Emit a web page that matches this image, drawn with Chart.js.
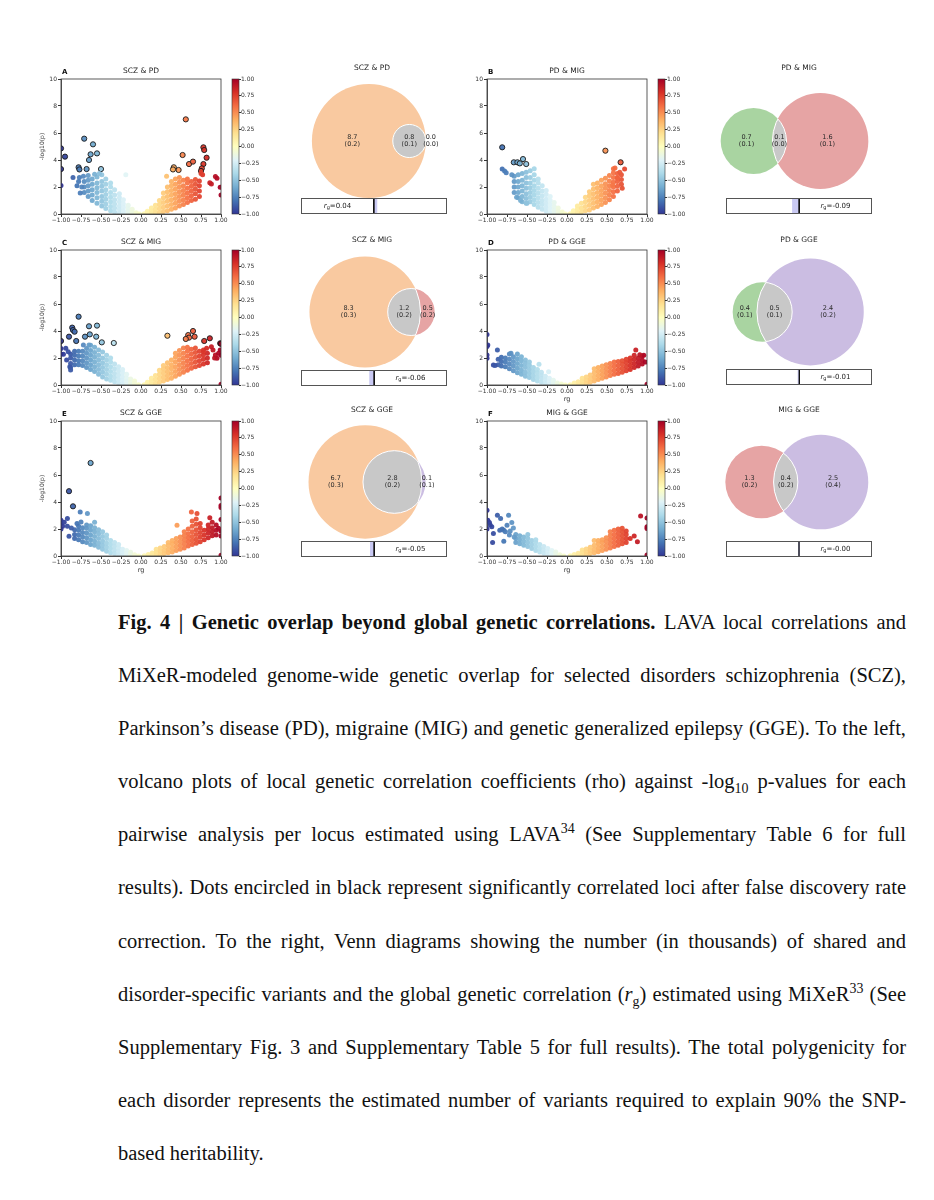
<!DOCTYPE html>
<html>
<head>
<meta charset="utf-8">
<title>Fig. 4</title>
<script src="https://cdn.jsdelivr.net/npm/chart.js@4.4.1/dist/chart.umd.min.js"></script>
<style>
  html, body { margin: 0; padding: 0; background: #fff; }
  body { width: 934px; height: 1200px; position: relative; overflow: hidden; }
  #fig canvas { position: absolute; }
  #caption {
    position: absolute; left: 118px; top: 596px; width: 788px;
    font-family: "Liberation Serif", "Times New Roman", serif;
    font-size: 20.5px; line-height: 53.1px; color: #111;
  }
  #caption div { text-align: justify; text-align-last: justify; }
  #caption div.last { text-align-last: left; }
  #caption sub, #caption sup { font-size: 0.68em; line-height: 0; }
</style>
</head>
<body>
<div id="fig"></div>
<div id="caption">
  <div><b>Fig. 4 | Genetic overlap beyond global genetic correlations.</b> LAVA local correlations and</div>
  <div>MiXeR-modeled genome-wide genetic overlap for selected disorders schizophrenia (SCZ),</div>
  <div>Parkinson’s disease (PD), migraine (MIG) and genetic generalized epilepsy (GGE). To the left,</div>
  <div>volcano plots of local genetic correlation coefficients (rho) against -log<sub>10</sub> p-values for each</div>
  <div>pairwise analysis per locus estimated using LAVA<sup>34</sup> (See Supplementary Table 6 for full</div>
  <div>results). Dots encircled in black represent significantly correlated loci after false discovery rate</div>
  <div>correction. To the right, Venn diagrams showing the number (in thousands) of shared and</div>
  <div>disorder-specific variants and the global genetic correlation (<i>r</i><sub>g</sub>) estimated using MiXeR<sup>33</sup> (See</div>
  <div>Supplementary Fig. 3 and Supplementary Table 5 for full results). The total polygenicity for</div>
  <div>each disorder represents the estimated number of variants required to explain 90% the SNP-</div>
  <div class="last">based heritability.</div>
</div>
<script>
//---------------------------------------------------------
// Data
//---------------------------------------------------------
// loci rows: [rho, -log10(p), -log10(p), ...]
const sczPdLoci = [
  [-0.71,1.6,2.0,2.4],[-0.66,1.3,1.7,2.1,2.5,2.85],[-0.61,1.0,1.4,1.8,2.2,2.6],[-0.55,0.8,1.2,1.6,1.95,2.3,2.75],
  [-0.49,0.6,0.95,1.3,1.7,2.05,2.4,2.9],[-0.44,0.4,0.75,1.1,1.45,1.8,2.2,2.6],[-0.38,0.25,0.55,0.9,1.25,1.6,2.0,2.3],
  [-0.33,0.15,0.45,0.75,1.05,1.4,1.8],[-0.27,0.1,0.35,0.6,0.9,1.2,1.5],[-0.22,0.05,0.25,0.5,0.75,1.05],
  [-0.16,0.03,0.2,0.4,0.65],[-0.11,0.02,0.15,0.35],[-0.06,0.01,0.1],[-0.02,0.0],
  [-1.0,2.12],[-0.19,2.9],[-0.8,2.1],[-0.78,2.4],[-0.76,1.55],[-0.85,2.7],[-0.77,2.7],[-0.74,2.0],[-0.72,2.8],[-0.58,2.95],[-0.52,3.0],
  [0.04,0.02],[0.08,0.05,0.2],[0.13,0.05,0.25,0.45],[0.18,0.1,0.35,0.65],[0.23,0.12,0.4,0.7,1.0],
  [0.28,0.18,0.5,0.85,1.2,1.55],[0.33,0.25,0.6,0.95,1.3,1.65,2.0],[0.38,0.35,0.7,1.05,1.4,1.75,2.1,2.4],
  [0.43,0.45,0.8,1.15,1.5,1.85,2.2,2.6],[0.48,0.6,0.95,1.3,1.65,2.0,2.35,2.7],[0.53,0.7,1.05,1.4,1.75,2.1,2.5],
  [0.58,0.85,1.2,1.55,1.9,2.3,2.6],[0.63,1.0,1.35,1.7,2.05,2.4],[0.68,1.1,1.5,1.85,2.2,2.55],[0.73,1.3,1.7,2.1,2.45],
  [0.32,2.8],[0.86,2.32],[0.93,2.77],[0.95,2.64],[0.99,1.98],[1.0,1.41],[0.88,2.22],[0.77,2.9],[0.75,3.0]
];
const sczPdSig = [
  [-1.0,4.86],[-0.95,4.25],[-1.0,3.33],[-0.71,5.58],[-0.6,5.16],[-0.63,4.42],[-0.55,4.49],[-0.65,4.0],
  [-0.78,3.46],[-0.68,3.33],[-0.5,3.33],[-0.77,3.3],[0.56,7.01],[0.52,4.37],[0.41,3.46],[0.47,3.26],
  [0.6,3.7],[0.65,3.88],[0.78,4.94],[0.79,4.74],[0.82,4.17],[0.78,3.7],[0.76,3.38],[0.75,3.19],[0.4,3.3]
];

const pdMigLoci = [
  [-0.66,1.6,2.0,2.4,2.8],[-0.61,1.2,1.6,2.0,2.4,2.9],[-0.56,0.9,1.3,1.7,2.1,2.5,3.0],[-0.51,0.8,1.15,1.5,1.9,2.3,2.7,3.1],
  [-0.46,0.9,1.25,1.6,1.95,2.3,2.7,3.2],[-0.41,0.7,1.05,1.4,1.75,2.1,2.5,2.9,3.35],[-0.36,0.5,0.85,1.2,1.55,1.9,2.3,2.6],
  [-0.31,0.35,0.7,1.0,1.35,1.7,2.1],[-0.26,0.2,0.5,0.8,1.1,1.45,1.75],[-0.21,0.1,0.4,0.7,1.0,1.3],
  [-0.16,0.05,0.3,0.55,0.85],[-0.11,0.03,0.2,0.45],[-0.06,0.01,0.15],[-0.02,0.0],
  [-0.81,3.33],[-0.78,3.19],[-0.76,3.06],[-0.69,2.9],[-0.63,1.25],[-0.58,1.0],[-0.5,0.79],
  [0.04,0.02],[0.08,0.05,0.25],[0.13,0.1,0.35,0.6],[0.18,0.15,0.45,0.8],[0.23,0.25,0.55,0.9,1.25],
  [0.28,0.3,0.65,1.0,1.35,1.65],[0.33,0.45,0.8,1.15,1.5,1.85,2.2],[0.38,0.55,0.9,1.25,1.6,1.95,2.3],
  [0.43,0.7,1.05,1.4,1.75,2.1,2.5],[0.48,0.85,1.2,1.55,1.9,2.25,2.65],[0.53,1.05,1.4,1.75,2.1,2.45,2.85],
  [0.58,1.3,1.65,2.0,2.35,2.7,3.05,3.35],[0.63,1.7,2.05,2.4,2.7,3.0],[0.68,2.2,2.55,2.9],
  [0.72,3.33],[0.69,1.9],[0.57,2.15],[0.63,2.64],[0.66,3.1],[0.6,3.4]
];
const pdMigSig = [[-0.81,4.94],[-0.665,3.83],[-0.62,3.83],[-0.59,3.75],[-0.55,4.07],[-0.51,3.7],[0.48,4.69],[0.67,3.83]];

const sczMigLoci = [
  [-0.88,1.3,1.6,2.0,2.3],[-0.83,1.5,1.85,2.2,2.5],[-0.78,1.5,1.8,2.15,2.5],[-0.73,1.45,1.8,2.15,2.5],
  [-0.68,1.3,1.65,2.0,2.35,2.7],[-0.63,1.15,1.5,1.85,2.2,2.55,2.95],[-0.58,1.0,1.35,1.7,2.05,2.4,2.8],
  [-0.53,0.8,1.15,1.5,1.85,2.2,2.6],[-0.48,0.6,0.95,1.3,1.65,2.0,2.45],[-0.43,0.45,0.8,1.15,1.5,1.85,2.2],
  [-0.38,0.35,0.65,1.0,1.35,1.7,2.0],[-0.33,0.25,0.55,0.85,1.2,1.55],[-0.28,0.15,0.45,0.75,1.05,1.35],
  [-0.23,0.1,0.35,0.6,0.9,1.15],[-0.18,0.05,0.3,0.5,0.8],[-0.13,0.03,0.2,0.45],[-0.08,0.02,0.15,0.3],[-0.03,0.01],
  [-1.0,2.7],[-0.97,2.27],[-0.91,2.47],[-0.93,1.85],[-0.89,1.36],[-0.88,1.11],[-0.94,2.72],[-0.72,2.96],[-0.65,2.96],[-1.0,2.3],
  [0.04,0.02],[0.08,0.05,0.2],[0.13,0.08,0.3,0.5],[0.18,0.12,0.4,0.7],[0.23,0.2,0.5,0.8,1.1],
  [0.28,0.3,0.6,0.9,1.2,1.45],[0.33,0.4,0.7,1.0,1.3,1.65],[0.38,0.5,0.85,1.2,1.5,1.85],
  [0.43,0.65,1.0,1.35,1.7,2.05,2.35],[0.48,0.8,1.15,1.5,1.85,2.2,2.55],[0.53,0.95,1.3,1.65,2.0,2.35,2.75],
  [0.58,1.1,1.45,1.8,2.15,2.5,2.8],[0.63,1.25,1.6,1.95,2.3,2.65],[0.68,1.35,1.7,2.05,2.4,2.75],
  [0.73,1.45,1.8,2.15,2.5],[0.78,1.55,1.9,2.25,2.6],[0.83,1.65,2.0,2.35],
  [0.88,2.84],[0.9,2.59],[0.93,2.22],[0.97,2.35],[0.99,2.59],[0.95,1.98],[1.0,0.05],[0.82,2.72],[0.78,2.47],[0.92,2.0],[1.0,2.2]
];
const sczMigSig = [
  [-0.78,5.06],[-0.86,4.25],[-0.85,4.07],[-0.83,3.95],[-0.9,3.58],[-0.81,3.26],[-1.0,3.26],[-0.65,4.35],
  [-0.55,4.4],[-0.64,3.75],[-0.7,3.58],[-0.56,3.58],[-0.49,3.16],[-0.34,3.11],[0.33,3.65],[0.59,3.7],
  [0.65,4.0],[0.6,3.51],[0.56,3.41],[0.67,3.58],[0.79,3.26],[0.86,3.46],[0.99,3.09],[1.0,3.05]
];

const pdGgeLoci = [
  [-0.86,1.5,1.9],[-0.82,1.4,1.75,2.05],[-0.77,1.35,1.7,2.0],[-0.72,1.2,1.55,1.9,2.3],[-0.67,1.05,1.4,1.75,2.1],
  [-0.62,0.9,1.25,1.6,1.95,2.3],[-0.57,0.8,1.1,1.45,1.8,2.1],[-0.52,0.65,0.95,1.3,1.6,1.85],[-0.47,0.55,0.85,1.15,1.45,1.7],
  [-0.42,0.4,0.7,1.0,1.3],[-0.37,0.3,0.6,0.9,1.15],[-0.32,0.2,0.5,0.75,0.95],[-0.27,0.12,0.4,0.65],[-0.22,0.08,0.3,0.5],
  [-0.17,0.05,0.2,0.35],[-0.12,0.03,0.15],[-0.07,0.01,0.08],[-0.02,0.0],
  [-1.0,3.75],[-0.99,2.96],[-1.0,2.85],[-1.0,2.22],[-1.0,1.98],[-0.87,2.59],[-0.92,1.48],[-0.9,1.45],[-0.35,1.53],[-0.23,0.99],[-0.7,2.35],
  [0.04,0.01],[0.09,0.03,0.15],[0.14,0.05,0.25],[0.19,0.08,0.3,0.5],[0.24,0.12,0.35,0.6],[0.29,0.2,0.45,0.75],
  [0.34,0.3,0.6,0.9,1.2],[0.39,0.4,0.7,1.0,1.3],[0.44,0.5,0.8,1.1,1.4],[0.49,0.6,0.9,1.2,1.5],[0.54,0.7,1.0,1.3,1.6],
  [0.59,0.8,1.1,1.4,1.7],[0.64,0.85,1.15,1.45,1.75],[0.69,0.95,1.25,1.55,1.8],[0.74,1.05,1.35,1.65,1.9],
  [0.79,1.15,1.45,1.75,2.0],[0.84,1.3,1.6,1.9,2.2],[0.89,1.4,1.7,2.0],[0.94,1.55,1.85,2.15],
  [0.86,2.59],[0.98,1.7],[1.0,0.05],[0.96,2.2],[0.91,2.25]
];
const pdGgeSig = [];

const sczGgeLoci = [
  [-0.83,1.3,1.6,1.95],[-0.78,1.2,1.55,1.9,2.2],[-0.73,1.05,1.4,1.75,2.1],[-0.68,1.0,1.35,1.7,2.05,2.3],
  [-0.63,0.85,1.2,1.55,1.9,2.25],[-0.58,0.8,1.1,1.45,1.8,2.1,2.5],[-0.53,0.65,0.95,1.3,1.65,1.95],
  [-0.48,0.5,0.8,1.1,1.45,1.8],[-0.43,0.35,0.65,0.95,1.3,1.55],[-0.38,0.25,0.55,0.85,1.15],[-0.33,0.18,0.45,0.75,1.0],
  [-0.28,0.1,0.35,0.6,0.85],[-0.23,0.07,0.3,0.5],[-0.18,0.04,0.2,0.4],[-0.13,0.02,0.15,0.28],[-0.08,0.01,0.1],[-0.03,0.0],
  [-0.76,3.26],[-0.67,3.14],[-0.92,2.77],[-1.0,2.65],[-1.0,2.4],[-0.98,2.2],[-1.0,2.0],[-0.96,2.5],[-0.9,1.47],
  [-0.87,2.08],[-0.8,2.4],[-0.75,2.52],[-0.92,2.2],
  [0.04,0.01],[0.09,0.03,0.12],[0.14,0.05,0.22],[0.19,0.08,0.3,0.5],[0.24,0.12,0.35,0.6],[0.29,0.18,0.42,0.7],
  [0.34,0.25,0.5,0.8,1.0],[0.39,0.3,0.6,0.9,1.15],[0.44,0.4,0.7,1.0,1.3],[0.49,0.5,0.8,1.1,1.4],
  [0.54,0.6,0.9,1.2,1.5,1.8],[0.59,0.75,1.05,1.35,1.65,2.0],[0.64,0.85,1.15,1.45,1.8,2.2,2.6],
  [0.69,0.95,1.25,1.6,1.95,2.35,2.75],[0.74,1.05,1.4,1.75,2.1,2.4],[0.79,1.2,1.55,1.9],[0.84,1.35,1.7,2.0,2.3],
  [0.89,1.5,1.8,2.1,2.5],[0.94,1.55,1.9,2.3],
  [0.45,2.28],[0.63,3.26],[0.7,3.14],[0.86,2.84],[1.0,4.29],[1.0,3.75],[1.0,3.6],[1.0,2.7],[1.0,1.84],[1.0,1.49],[0.97,2.05],[1.0,0.05]
];
const sczGgeSig = [[-0.63,6.89],[-0.9,4.8],[-0.85,3.68]];

const migGgeLoci = [
  [-0.64,1.0,1.3,1.6],[-0.59,0.9,1.2,1.5],[-0.54,0.8,1.1,1.4],[-0.49,0.7,1.0,1.3,1.6],[-0.44,0.55,0.85,1.15],
  [-0.39,0.4,0.7,1.0,1.2],[-0.34,0.3,0.55,0.85],[-0.29,0.2,0.45,0.7],[-0.24,0.12,0.35,0.55],[-0.19,0.07,0.25,0.4],
  [-0.14,0.04,0.18,0.3],[-0.09,0.02,0.1],[-0.04,0.0],
  [-1.0,3.38],[-0.99,2.65],[-0.97,2.48],[-0.94,2.16],[-0.92,1.67],[-0.93,1.0],[-0.87,3.01],[-0.83,2.77],[-0.84,1.91],
  [-0.79,1.91],[-0.77,1.79],[-0.73,3.01],[-0.75,2.28],[-0.79,1.1],[-0.69,2.48],[-0.71,1.85],[-0.67,2.08],[-0.81,2.0],
  [-0.96,2.3],[-1.0,2.0],[-0.72,1.55],[-0.66,1.4],
  [0.04,0.01],[0.09,0.03,0.12],[0.14,0.05,0.2],[0.19,0.08,0.28,0.45],[0.24,0.12,0.32,0.52],[0.29,0.18,0.4,0.65],
  [0.34,0.25,0.5,0.8,1.15],[0.39,0.32,0.6,0.9,1.15],[0.44,0.4,0.7,1.0,1.2],[0.49,0.5,0.8,1.1,1.35],
  [0.54,0.6,0.9,1.2,1.5,1.8],[0.59,0.7,1.0,1.3,1.6,1.9],[0.64,0.8,1.1,1.4,1.7,2.0],[0.69,0.9,1.2,1.5,1.8,2.05],
  [0.74,1.0,1.3,1.6,1.85],
  [0.84,1.49],[0.88,1.05],[0.92,2.97],[1.0,2.82],[1.0,2.16],[1.0,2.03],[1.0,0.07],[0.79,1.3]
];
const migGgeSig = [];

const panelLetters = ["A", "B", "C", "D", "E", "F"];
const volcanoTitles = ["SCZ & PD", "PD & MIG", "SCZ & MIG", "PD & GGE", "SCZ & GGE", "MIG & GGE"];
const volcanoLoci = [sczPdLoci, pdMigLoci, sczMigLoci, pdGgeLoci, sczGgeLoci, migGgeLoci];
const volcanoSig = [sczPdSig, pdMigSig, sczMigSig, pdGgeSig, sczGgeSig, migGgeSig];

const rhoTicks = [-1, -0.75, -0.5, -0.25, 0, 0.25, 0.5, 0.75, 1];
const logpTicks = [0, 2, 4, 6, 8, 10];
const colorbarTicks = [-1, -0.75, -0.5, -0.25, 0, 0.25, 0.5, 0.75, 1];

// Venn (MiXeR): [first only, shared, second only] in thousands, with SE
const vennTitles = ["SCZ & PD", "PD & MIG", "SCZ & MIG", "PD & GGE", "SCZ & GGE", "MIG & GGE"];
const vennTraits = [["SCZ", "PD"], ["PD", "MIG"], ["SCZ", "MIG"], ["PD", "GGE"], ["SCZ", "GGE"], ["MIG", "GGE"]];
const vennCounts = [[8.7, 0.8, 0.0], [0.7, 0.1, 1.6], [8.3, 1.2, 0.5], [0.4, 0.5, 2.4], [6.7, 2.8, 0.1], [1.3, 0.4, 2.5]];
const vennSE = [[0.2, 0.1, 0.0], [0.1, 0.0, 0.1], [0.3, 0.2, 0.2], [0.1, 0.1, 0.2], [0.3, 0.2, 0.1], [0.2, 0.2, 0.4]];
const vennRg = [0.04, -0.09, -0.06, -0.01, -0.05, -0.00];
const rgTicks = [-1, 0, 1];

//---------------------------------------------------------
// Styling / layout
//---------------------------------------------------------
const FONT = "'DejaVu Sans', sans-serif";
const INK = "#333";
const TRAIT_COLORS = { SCZ: "#f9c9a0", PD: "#a9d4a1", MIG: "#e6a4a4", GGE: "#cbbde2" };
const SHARED_COLOR = "#c8c8c8";
const RDYLBU_R = ["#313695", "#4575b4", "#74add1", "#abd9e9", "#e0f3f8", "#ffffbf", "#fee090", "#fdae61", "#f46d43", "#d73027", "#a50026"];

const PLOT_W = 160, PLOT_H = 135;
const PLOT_POS = [[61, 79], [487, 79], [61, 250], [487, 250], [61, 421], [487, 421]];
const VENN_POS = [[372, 68, 141], [799, 68, 141], [372, 240, 312], [799, 240, 312], [372, 410, 482], [799, 410, 482]];
const RG_POS = [[301, 198], [726, 198], [301, 370], [726, 369], [301, 541], [726, 541]];
const VENN_PX = 101; // px per unit (union area normalised to 1)

const fmt2 = (v) => (v < 0 ? "\u2212" : "") + Math.abs(v).toFixed(2);
const toPoints = (rows) => rows.flatMap(([x, ...ys]) => ys.map((y) => ({ x, y })));

const hexRgb = (h) => [1, 3, 5].map((i) => parseInt(h.slice(i, i + 2), 16));
const cmap = (v) => {
	const n = RDYLBU_R.length - 1;
	const t = Math.min(1, Math.max(0, (v + 1) / 2)) * n;
	const i = Math.min(Math.floor(t), n - 1);
	const f = t - i;
	const a = hexRgb(RDYLBU_R[i]), b = hexRgb(RDYLBU_R[i + 1]);
	const c = a.map((x, k) => Math.round(x + (b[k] - x) * f));
	return `rgba(${c[0]},${c[1]},${c[2]},0.95)`;
};
const pointColor = (c) => (c.raw ? cmap(c.raw.x) : "#ccc");

const addCanvas = (left, top, w, h) => {
	const c = document.createElement("canvas");
	c.width = w;
	c.height = h;
	c.style.left = left + "px";
	c.style.top = top + "px";
	c.style.width = w + "px";
	c.style.height = h + "px";
	document.getElementById("fig").appendChild(c);
	return c;
};

// frame around the plot area (+ optional panel letter)
const framePlugin = {
	id: "frame",
	afterDraw(chart, args, opts) {
		const { ctx, chartArea: a } = chart;
		ctx.save();
		ctx.strokeStyle = opts.color || INK;
		ctx.lineWidth = opts.width || 0.8;
		ctx.strokeRect(a.left, a.top, a.width, a.height);
		if (opts.letter) {
			ctx.font = "bold 7px " + FONT;
			ctx.fillStyle = "#111";
			ctx.textBaseline = "middle";
			ctx.fillText(opts.letter, a.left + 1, a.top - 6.5);
		}
		ctx.restore();
	},
};

//---------------------------------------------------------
// Volcano plots + colorbars
//---------------------------------------------------------
volcanoTitles.forEach((title, i) => {
	const [pl, pt] = PLOT_POS[i];
	const showY = i % 2 === 0;
	const showX = i >= 3;
	const xH = showX ? 22 : 14;
	const cv = addCanvas(pl - 31, pt - 14, 31 + PLOT_W + 10, 14 + PLOT_H + xH);

	new Chart(cv, {
		type: "scatter",
		data: {
			datasets: [
				{
					data: toPoints(volcanoLoci[i]),
					pointRadius: 2.5,
					pointBorderWidth: 0,
					pointBackgroundColor: pointColor,
				},
				{
					data: toPoints(volcanoSig[i]),
					pointRadius: 2.6,
					pointBorderWidth: 0.9,
					pointBorderColor: "#1a1a1a",
					pointBackgroundColor: pointColor,
				},
			],
		},
		options: {
			responsive: false,
			animation: false,
			events: [],
			layout: { padding: { left: 0, right: 10, top: 0, bottom: 0 } },
			scales: {
				x: {
					type: "linear",
					min: -1,
					max: 1,
					afterBuildTicks: (s) => { s.ticks = rhoTicks.map((v) => ({ value: v })); },
					afterFit: (s) => { s.height = xH; },
					ticks: { font: { family: FONT, size: 6 }, color: INK, autoSkip: false, maxRotation: 0, minRotation: 0, padding: 0, callback: (v) => fmt2(v) },
					grid: { drawOnChartArea: false, tickLength: 3, color: INK },
					border: { color: INK, width: 0.8 },
					title: { display: showX, text: "rg", font: { family: FONT, size: 6.5 }, color: INK, padding: { top: 4, bottom: 4 } },
				},
				y: {
					type: "linear",
					min: 0,
					max: 10,
					afterBuildTicks: (s) => { s.ticks = logpTicks.map((v) => ({ value: v })); },
					afterFit: (s) => { s.width = 31; },
					ticks: { font: { family: FONT, size: 6 }, color: INK, padding: 1, callback: (v) => String(v) },
					grid: { drawOnChartArea: false, tickLength: 3, color: INK },
					border: { color: INK, width: 0.8 },
					title: { display: showY, text: "-log10(p)", font: { family: FONT, size: 6 }, color: INK, padding: { top: 9, bottom: 9 } },
				},
			},
			plugins: {
				legend: { display: false },
				tooltip: { enabled: false },
				title: { display: true, text: title, fullSize: false, font: { family: FONT, size: 7.5, weight: "normal" }, color: "#222", padding: { top: 2, bottom: 3 } },
				frame: { letter: panelLetters[i] },
			},
		},
		plugins: [framePlugin],
	});

	// colorbar
	const cb = addCanvas(pl + 169, pt - 5, 39, PLOT_H + 10);
	new Chart(cb, {
		type: "bar",
		data: {
			labels: [""],
			datasets: [
				{
					data: [[-1, 1]],
					barPercentage: 1,
					categoryPercentage: 1,
					borderWidth: 0,
					backgroundColor: (c) => {
						const a = c.chart.chartArea;
						if (!a) return "#ddd";
						const g = c.chart.ctx.createLinearGradient(0, a.bottom, 0, a.top);
						RDYLBU_R.forEach((col, k) => g.addColorStop(k / (RDYLBU_R.length - 1), col));
						return g;
					},
				},
			],
		},
		options: {
			responsive: false,
			animation: false,
			events: [],
			layout: { padding: { left: 2, right: 0, top: 5, bottom: 5 } },
			scales: {
				x: { display: false },
				y: {
					position: "right",
					min: -1,
					max: 1,
					afterBuildTicks: (s) => { s.ticks = colorbarTicks.map((v) => ({ value: v })); },
					afterFit: (s) => { s.width = 30; },
					ticks: { font: { family: FONT, size: 6 }, color: INK, padding: 0, callback: (v) => fmt2(v) },
					grid: { drawOnChartArea: false, tickLength: 2, color: INK },
					border: { display: false },
				},
			},
			plugins: { legend: { display: false }, tooltip: { enabled: false }, frame: { width: 0.6 } },
		},
		plugins: [framePlugin],
	});
});

//---------------------------------------------------------
// Venn diagrams (MiXeR)
//---------------------------------------------------------
const lensArea = (r1, r2, d) => {
	if (d >= r1 + r2) return 0;
	if (d <= Math.abs(r1 - r2)) return Math.PI * Math.min(r1, r2) ** 2;
	const a = r1 * r1 * Math.acos((d * d + r1 * r1 - r2 * r2) / (2 * d * r1));
	const b = r2 * r2 * Math.acos((d * d + r2 * r2 - r1 * r1) / (2 * d * r2));
	const c = 0.5 * Math.sqrt((-d + r1 + r2) * (d + r1 - r2) * (d - r1 + r2) * (d + r1 + r2));
	return a + b - c;
};

const vennGeometry = ([a, s, b]) => {
	const u = a + s + b;
	const rA = Math.sqrt((a + s) / u / Math.PI);
	const rB = Math.sqrt((b + s) / u / Math.PI);
	const target = s / u;
	let lo = Math.abs(rA - rB), hi = rA + rB;
	for (let k = 0; k < 60; k++) {
		const mid = (lo + hi) / 2;
		if (lensArea(rA, rB, mid) > target) lo = mid; else hi = mid;
	}
	const d = (lo + hi) / 2;
	const wA = rA * rA, wB = rB * rB;
	return { rA, rB, xA: -d * wB / (wA + wB), xB: d * wA / (wA + wB) };
};

const vennPlugin = {
	id: "venn",
	beforeDatasetsDraw(chart, args, o) {
		const { ctx } = chart;
		const X = chart.scales.x, Y = chart.scales.y;
		const px = (v) => X.getPixelForValue(v);
		const cy = Y.getPixelForValue(0);
		const ax = px(o.xA), bx = px(o.xB);
		const ra = px(o.rA) - px(0), rb = px(o.rB) - px(0);
		const circle = (x, r) => { ctx.beginPath(); ctx.arc(x, cy, r, 0, Math.PI * 2); };

		ctx.save();
		circle(ax, ra); ctx.fillStyle = o.colorA; ctx.fill();
		circle(bx, rb); ctx.fillStyle = o.colorB; ctx.fill();
		ctx.save(); circle(ax, ra); ctx.clip();
		circle(bx, rb); ctx.fillStyle = SHARED_COLOR; ctx.fill();
		ctx.strokeStyle = "#fff"; ctx.lineWidth = 1; ctx.stroke();
		ctx.restore();
		ctx.save(); circle(bx, rb); ctx.clip();
		circle(ax, ra); ctx.strokeStyle = "#fff"; ctx.lineWidth = 1; ctx.stroke();
		ctx.restore();

		// region labels
		const lensL = Math.max(bx - rb, ax - ra), lensR = Math.min(ax + ra, bx + rb);
		const xs = [
			(ax - ra + lensL) / 2,
			(lensL + lensR) / 2,
			Math.max((ax + ra + bx + rb) / 2, ax + ra + 5),
		];
		ctx.fillStyle = "#2a2a2a";
		ctx.textAlign = "center";
		ctx.textBaseline = "middle";
		ctx.font = "6.5px " + FONT;
		xs.forEach((x, k) => {
			ctx.fillText(o.counts[k].toFixed(1), x, cy - 3.8);
			ctx.fillText("(" + o.se[k].toFixed(1) + ")", x, cy + 3.6);
		});
		ctx.restore();
	},
};

const rgPlugin = {
	id: "rgbar",
	afterDraw(chart, args, o) {
		const { ctx, chartArea: a } = chart;
		const X = chart.scales.x;
		ctx.save();
		ctx.strokeStyle = "#555";
		ctx.lineWidth = 1;
		ctx.strokeRect(a.left + 0.5, a.top + 0.5, a.width - 1, a.height - 1);
		const neg = o.rg < 0 || Object.is(o.rg, -0);
		const cx = X.getPixelForValue(neg ? 0.5 : -0.5);
		const val = "=" + (neg ? "-" : "") + Math.abs(o.rg).toFixed(2);
		ctx.fillStyle = "#222";
		ctx.textBaseline = "middle";
		ctx.font = "italic 7px " + FONT;
		const wR = ctx.measureText("r").width;
		ctx.font = "5px " + FONT;
		const wG = ctx.measureText("g").width;
		ctx.font = "7px " + FONT;
		const wV = ctx.measureText(val).width;
		let x = cx - (wR + wG + wV) / 2;
		const y = (a.top + a.bottom) / 2;
		ctx.font = "italic 7px " + FONT;
		ctx.fillText("r", x, y); x += wR;
		ctx.font = "5px " + FONT;
		ctx.fillText("g", x, y + 2); x += wG;
		ctx.font = "7px " + FONT;
		ctx.fillText(val, x, y);
		ctx.restore();
	},
};

vennTitles.forEach((title, i) => {
	const [cx, ty, cy] = VENN_POS[i];
	const W = 160;
	const top = Math.round(ty - 6.5);
	const areaTop = top + 13;
	const h = 2 * cy - areaTop - top;
	const g = vennGeometry(vennCounts[i]);
	const cv = addCanvas(cx - W / 2, top, W, h);
	const half = W / 2 / VENN_PX;

	new Chart(cv, {
		type: "scatter",
		data: { datasets: [{ data: [{ x: g.xA, y: 0 }, { x: g.xB, y: 0 }], pointRadius: 0 }] },
		options: {
			responsive: false,
			animation: false,
			events: [],
			scales: {
				x: { display: false, type: "linear", min: -half, max: half },
				y: { display: false, type: "linear", min: -1, max: 1 },
			},
			plugins: {
				legend: { display: false },
				tooltip: { enabled: false },
				title: { display: true, text: title, font: { family: FONT, size: 7.5, weight: "normal" }, color: "#222", padding: { top: 2, bottom: 2 } },
				venn: {
					...g,
					colorA: TRAIT_COLORS[vennTraits[i][0]],
					colorB: TRAIT_COLORS[vennTraits[i][1]],
					counts: vennCounts[i],
					se: vennSE[i],
				},
			},
		},
		plugins: [vennPlugin],
	});

	// rg bar
	const [rl, rt] = RG_POS[i];
	const rc = addCanvas(rl, rt, 146, 16);
	new Chart(rc, {
		type: "bar",
		data: {
			labels: ["rg"],
			datasets: [{ data: [[0, vennRg[i]]], backgroundColor: "#c9c9f3", borderWidth: 0, barPercentage: 1, categoryPercentage: 1 }],
		},
		options: {
			indexAxis: "y",
			responsive: false,
			animation: false,
			events: [],
			scales: {
				x: {
					min: -1,
					max: 1,
					afterBuildTicks: (s) => { s.ticks = rgTicks.map((v) => ({ value: v })); },
					afterFit: (s) => { s.height = 0; },
					ticks: { display: false },
					grid: { drawTicks: false, lineWidth: 2, color: (c) => (c.tick && c.tick.value === 0 ? "#111" : "rgba(0,0,0,0)") },
					border: { display: false },
				},
				y: { display: false },
			},
			plugins: { legend: { display: false }, tooltip: { enabled: false }, rgbar: { rg: vennRg[i] } },
		},
		plugins: [rgPlugin],
	});
});
</script>
</body>
</html>
